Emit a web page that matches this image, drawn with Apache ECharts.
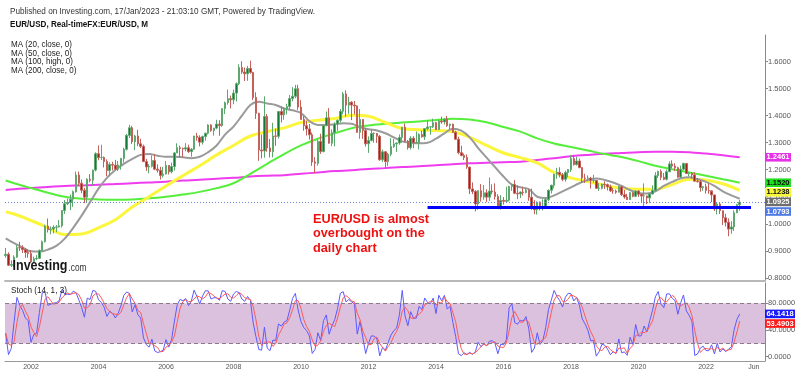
<!DOCTYPE html>
<html>
<head>
<meta charset="utf-8">
<script src="https://cdn.jsdelivr.net/npm/echarts@6/dist/echarts.min.js"></script>
<style>
  html, body { margin: 0; padding: 0; background: #fff; }
  #chart { width: 800px; height: 376px; }
</style>
</head>
<body>
<div id="chart"></div>
<script>
// EUR/USD monthly candles, Apr 2001 .. Jan 2023 (open = previous close)
var firstMonth = '2001-04';
var firstOpen = 0.8821;
var closes = [
  0.8870, 0.8464, 0.8491, 0.8764, 0.9115, 0.9109, 0.9042, 0.8935, 0.8895,
  0.8590, 0.8701, 0.8720, 0.9012, 0.9336, 0.9911, 0.9780, 0.9805, 0.9872, 0.9884, 0.9928, 1.0492,
  1.0738, 1.0784, 1.0912, 1.1184, 1.1806, 1.1500, 1.1240, 1.0985, 1.1650, 1.1609, 1.1988, 1.2595,
  1.2452, 1.2456, 1.2305, 1.1968, 1.2197, 1.2170, 1.2022, 1.2174, 1.2421, 1.2756, 1.3272, 1.3556,
  1.3040, 1.3249, 1.2961, 1.2867, 1.2301, 1.2104, 1.2127, 1.2340, 1.2023, 1.1982, 1.1790, 1.1840,
  1.2157, 1.1924, 1.2118, 1.2622, 1.2816, 1.2790, 1.2765, 1.2813, 1.2670, 1.2760, 1.3250, 1.3199,
  1.3020, 1.3229, 1.3355, 1.3659, 1.3453, 1.3542, 1.3690, 1.3636, 1.4263, 1.4485, 1.4631, 1.4590,
  1.4838, 1.5185, 1.5786, 1.5616, 1.5553, 1.5750, 1.5605, 1.4673, 1.4088, 1.2732, 1.2696, 1.3970,
  1.2808, 1.2669, 1.3251, 1.3236, 1.4155, 1.4031, 1.4257, 1.4339, 1.4635, 1.4719, 1.4999, 1.4321,
  1.3864, 1.3631, 1.3511, 1.3294, 1.2290, 1.2238, 1.3049, 1.2675, 1.3636, 1.3924, 1.2983, 1.3381,
  1.3694, 1.3831, 1.4165, 1.4807, 1.4393, 1.4502, 1.4394, 1.4365, 1.3386, 1.3862, 1.3449, 1.2960,
  1.3085, 1.3346, 1.3342, 1.3238, 1.2368, 1.2665, 1.2302, 1.2577, 1.2858, 1.2958, 1.2989, 1.3193,
  1.3577, 1.3059, 1.2818, 1.3169, 1.3003, 1.3009, 1.3303, 1.3219, 1.3522, 1.3584, 1.3591, 1.3743,
  1.3488, 1.3802, 1.3770, 1.3869, 1.3637, 1.3692, 1.3390, 1.3131, 1.2632, 1.2525, 1.2453, 1.2098,
  1.1291, 1.1196, 1.0731, 1.1224, 1.0989, 1.1146, 1.0985, 1.1210, 1.1176, 1.1006, 1.0566, 1.0862,
  1.0831, 1.0872, 1.1379, 1.1453, 1.1130, 1.1105, 1.1175, 1.1157, 1.1240, 1.0981, 1.0589, 1.0517,
  1.0798, 1.0575, 1.0652, 1.0894, 1.1242, 1.1426, 1.1838, 1.1906, 1.1812, 1.1644, 1.1902, 1.2005,
  1.2413, 1.2190, 1.2324, 1.2080, 1.1693, 1.1684, 1.1690, 1.1604, 1.1604, 1.1312, 1.1316, 1.1466,
  1.1448, 1.1370, 1.1218, 1.1213, 1.1169, 1.1371, 1.1077, 1.0990, 1.0899, 1.1152, 1.1018, 1.1213,
  1.1093, 1.1027, 1.1031, 1.0955, 1.1101, 1.1234, 1.1778, 1.1936, 1.1720, 1.1646, 1.1928, 1.2215,
  1.2136, 1.2074, 1.1726, 1.2020, 1.2228, 1.1857, 1.1870, 1.1809, 1.1578, 1.1558, 1.1337, 1.1370,
  1.1234, 1.1218, 1.1067, 1.0545, 1.0734, 1.0484, 1.0221, 1.0054, 0.9802, 0.9883, 1.0406, 1.0703,
  1.0793
];
var highs = [
  0.9104, 0.8944, 0.8645, 0.8834, 0.9206, 0.9329, 0.9204, 0.9098, 0.9047,
  0.9026, 0.8785, 0.8837, 0.9047, 0.9378, 0.9960, 1.0194, 0.9903, 0.9941, 0.9953, 1.0140, 1.0495,
  1.0880, 1.0937, 1.1082, 1.1233, 1.1933, 1.1933, 1.1640, 1.1330, 1.1682, 1.1837, 1.2004, 1.2649,
  1.2898, 1.2927, 1.2493, 1.2385, 1.2276, 1.2296, 1.2367, 1.2323, 1.2437, 1.2818, 1.3329, 1.3667,
  1.3624, 1.3288, 1.3480, 1.3148, 1.2933, 1.2396, 1.2208, 1.2531, 1.2588, 1.2200, 1.2109, 1.2108,
  1.2323, 1.2148, 1.2266, 1.2653, 1.2980, 1.2892, 1.2820, 1.2986, 1.2928, 1.2800, 1.3253, 1.3367,
  1.3275, 1.3266, 1.3372, 1.3682, 1.3684, 1.3549, 1.3852, 1.3835, 1.4280, 1.4528, 1.4967, 1.4748,
  1.4966, 1.5237, 1.5905, 1.6019, 1.5785, 1.5844, 1.6038, 1.5627, 1.4867, 1.4112, 1.3297, 1.4720,
  1.4063, 1.3137, 1.3739, 1.3524, 1.4163, 1.4338, 1.4303, 1.4446, 1.4770, 1.5062, 1.5144, 1.5144,
  1.4579, 1.3991, 1.3815, 1.3694, 1.3380, 1.2469, 1.3108, 1.3333, 1.3652, 1.4157, 1.4282, 1.3500,
  1.3758, 1.3861, 1.4248, 1.4882, 1.4940, 1.4700, 1.4539, 1.4549, 1.4385, 1.4247, 1.3874, 1.3549,
  1.3236, 1.3486, 1.3385, 1.3283, 1.3283, 1.2747, 1.2692, 1.2624, 1.3172, 1.3140, 1.3013, 1.3308,
  1.3586, 1.3711, 1.3101, 1.3243, 1.3243, 1.3417, 1.3350, 1.3452, 1.3546, 1.3832, 1.3618, 1.3893,
  1.3774, 1.3825, 1.3967, 1.3906, 1.3993, 1.3700, 1.3700, 1.3444, 1.3222, 1.2886, 1.2601, 1.2570,
  1.2108, 1.1534, 1.1244, 1.1228, 1.1467, 1.1436, 1.1278, 1.1714, 1.1460, 1.1495, 1.1095, 1.1059,
  1.0985, 1.1376, 1.1409, 1.1464, 1.1616, 1.1428, 1.1187, 1.1366, 1.1327, 1.1278, 1.1300, 1.0874,
  1.0829, 1.0829, 1.0906, 1.0951, 1.1268, 1.1446, 1.1846, 1.2070, 1.2092, 1.1880, 1.1962, 1.2023,
  1.2537, 1.2555, 1.2476, 1.2414, 1.2097, 1.1852, 1.1791, 1.1734, 1.1815, 1.1625, 1.1500, 1.1486,
  1.1570, 1.1489, 1.1448, 1.1324, 1.1265, 1.1412, 1.1412, 1.1250, 1.1110, 1.1179, 1.1175, 1.1240,
  1.1239, 1.1095, 1.1495, 1.1039, 1.1147, 1.1422, 1.1908, 1.1966, 1.2011, 1.1881, 1.2004, 1.2310,
  1.2349, 1.2243, 1.2113, 1.2150, 1.2266, 1.2254, 1.1909, 1.1909, 1.1909, 1.1692, 1.1616, 1.1386,
  1.1483, 1.1495, 1.1185, 1.1076, 1.0787, 1.0773, 1.0486, 1.0369, 1.0198, 1.0094, 1.0497, 1.0736,
  1.0874
];
var lows = [
  0.8743, 0.8443, 0.8403, 0.8386, 0.8741, 0.8993, 0.8917, 0.8738, 0.8740,
  0.8565, 0.8561, 0.8651, 0.8700, 0.9003, 0.9304, 0.9676, 0.9611, 0.9643, 0.9685, 0.9863, 0.9859,
  1.0364, 1.0693, 1.0505, 1.0622, 1.1150, 1.1413, 1.1136, 1.0766, 1.0796, 1.1533, 1.1429, 1.1940,
  1.2354, 1.2356, 1.2086, 1.1760, 1.1760, 1.1976, 1.1991, 1.1952, 1.2001, 1.2264, 1.2712, 1.3176,
  1.2954, 1.2727, 1.2875, 1.2802, 1.2290, 1.1952, 1.1867, 1.2083, 1.1985, 1.1898, 1.1638, 1.1710,
  1.1827, 1.1827, 1.1866, 1.1968, 1.2619, 1.2456, 1.2455, 1.2682, 1.2623, 1.2484, 1.2733, 1.3076,
  1.2865, 1.2933, 1.3075, 1.3304, 1.3406, 1.3265, 1.3500, 1.3260, 1.3588, 1.4060, 1.4409, 1.4269,
  1.4424, 1.4527, 1.5134, 1.5552, 1.5285, 1.5292, 1.5559, 1.4577, 1.3881, 1.2330, 1.2423, 1.2443,
  1.2665, 1.2456, 1.2457, 1.2886, 1.3156, 1.3748, 1.3853, 1.4048, 1.4208, 1.4533, 1.4650, 1.4218,
  1.3858, 1.3444, 1.3268, 1.3114, 1.2143, 1.1876, 1.2152, 1.2588, 1.2644, 1.3605, 1.2968, 1.2873,
  1.2861, 1.3428, 1.3748, 1.4055, 1.3967, 1.4070, 1.3838, 1.4051, 1.3361, 1.3145, 1.3146, 1.2860,
  1.2624, 1.3052, 1.3003, 1.2995, 1.2333, 1.2288, 1.2042, 1.2132, 1.2500, 1.2804, 1.2661, 1.2925,
  1.2997, 1.3020, 1.2744, 1.2746, 1.2796, 1.2997, 1.2755, 1.3188, 1.3104, 1.3458, 1.3296, 1.3545,
  1.3477, 1.3477, 1.3704, 1.3673, 1.3588, 1.3503, 1.3366, 1.3115, 1.2571, 1.2500, 1.2358, 1.2035,
  1.1098, 1.1098, 1.0457, 1.0520, 1.0819, 1.0888, 1.0808, 1.0847, 1.1087, 1.0896, 1.0556, 1.0524,
  1.0710, 1.0810, 1.0822, 1.1218, 1.1097, 1.0912, 1.0952, 1.1045, 1.1122, 1.0851, 1.0518, 1.0352,
  1.0340, 1.0494, 1.0495, 1.0570, 1.0840, 1.1119, 1.1313, 1.1662, 1.1717, 1.1574, 1.1554, 1.1718,
  1.1915, 1.2153, 1.2154, 1.2055, 1.1510, 1.1509, 1.1574, 1.1301, 1.1526, 1.1302, 1.1216, 1.1269,
  1.1289, 1.1234, 1.1176, 1.1111, 1.1107, 1.1160, 1.1027, 1.0926, 1.0879, 1.0879, 1.0981, 1.0981,
  1.0992, 1.0778, 1.0636, 1.0727, 1.0767, 1.1094, 1.1185, 1.1696, 1.1612, 1.1612, 1.1603, 1.1923,
  1.2054, 1.1952, 1.1704, 1.1704, 1.1986, 1.1847, 1.1752, 1.1664, 1.1563, 1.1524, 1.1186, 1.1222,
  1.1121, 1.1106, 1.0806, 1.0471, 1.0349, 1.0359, 0.9952, 0.9901, 0.9536, 0.9632, 0.9730, 1.0393,
  1.0483
];

// moving averages
var halfYears = ['2001-04', '2001-07',
  '2002-01', '2002-07', '2003-01', '2003-07', '2004-01', '2004-07', '2005-01', '2005-07',
  '2006-01', '2006-07', '2007-01', '2007-07', '2008-01', '2008-07', '2009-01', '2009-07',
  '2010-01', '2010-07', '2011-01', '2011-07', '2012-01', '2012-07', '2013-01', '2013-07',
  '2014-01', '2014-07', '2015-01', '2015-07', '2016-01', '2016-07', '2017-01', '2017-07',
  '2018-01', '2018-07', '2019-01', '2019-07', '2020-01', '2020-07', '2021-01', '2021-07',
  '2022-01', '2022-07', '2023-01'];
var ma50 = [1.044, 1.036,
  1.012, 0.986, 0.960, 0.962, 0.985, 1.015, 1.062, 1.100,
  1.140, 1.178, 1.215, 1.255, 1.290, 1.325, 1.341, 1.355,
  1.375, 1.383, 1.390, 1.402, 1.398, 1.375, 1.353, 1.348,
  1.345, 1.341, 1.320, 1.290, 1.262, 1.245, 1.225, 1.190,
  1.170, 1.156, 1.142, 1.131, 1.128, 1.128, 1.145, 1.165,
  1.162, 1.148, 1.1238];
var ma100 = [1.160, 1.150,
  1.132, 1.115, 1.100, 1.093, 1.090, 1.089, 1.090, 1.094,
  1.100, 1.108, 1.118, 1.132, 1.150, 1.185, 1.222, 1.258,
  1.290, 1.315, 1.335, 1.354, 1.364, 1.370, 1.375, 1.379,
  1.384, 1.389, 1.386, 1.376, 1.358, 1.341, 1.316, 1.297,
  1.284, 1.271, 1.258, 1.247, 1.232, 1.215, 1.202, 1.190,
  1.178, 1.165, 1.1520];
var ma200 = [1.125, 1.128,
  1.132, 1.136, 1.140, 1.142, 1.144, 1.147, 1.150, 1.153,
  1.156, 1.160, 1.163, 1.167, 1.170, 1.175, 1.178, 1.180,
  1.185, 1.190, 1.195, 1.198, 1.203, 1.206, 1.210, 1.213,
  1.217, 1.220, 1.224, 1.226, 1.228, 1.230, 1.236, 1.243,
  1.250, 1.255, 1.259, 1.262, 1.265, 1.267, 1.267, 1.265,
  1.260, 1.254, 1.2461];
// MA 20, one reading per quarter from Apr 2001
var ma20Start = '2001-04';
var ma20 = [0.946, 0.928, 0.912,
  0.898, 0.897, 0.904, 0.918,
  0.945, 0.985, 1.030, 1.080,
  1.130, 1.170, 1.199, 1.222,
  1.240, 1.255, 1.258, 1.252,
  1.248, 1.248, 1.246, 1.243,
  1.248, 1.265, 1.290, 1.330,
  1.360, 1.400, 1.440, 1.452,
  1.445, 1.440, 1.427, 1.420,
  1.410, 1.380, 1.366, 1.366,
  1.368, 1.372, 1.370, 1.358,
  1.350, 1.345, 1.335, 1.320,
  1.305, 1.300, 1.298, 1.300,
  1.315, 1.335, 1.352, 1.345,
  1.320, 1.280, 1.245, 1.210,
  1.175, 1.145, 1.135, 1.128,
  1.100, 1.095, 1.105, 1.120,
  1.135, 1.150, 1.162, 1.168,
  1.162, 1.153, 1.140, 1.125,
  1.114, 1.112, 1.120, 1.140,
  1.155, 1.168, 1.172, 1.165,
  1.155, 1.140, 1.120, 1.105,
  1.0925];

// drawn support line
var supportFrom = '2013-10', supportTo = '2023-05', supportLevel = 1.06;

// axis ticks
var tickMonths = ['2002-01', '2004-01', '2006-01', '2008-01', '2010-01', '2012-01',
  '2014-01', '2016-01', '2018-01', '2020-01', '2022-01', '2023-06'];
var tickNames = ['2002', '2004', '2006', '2008', '2010', '2012',
  '2014', '2016', '2018', '2020', '2022', 'Jun'];
var priceTicks = [0.8, 0.9, 1.0, 1.1, 1.2, 1.3, 1.4, 1.5, 1.6];
var stochTicks = [0, 40, 80];

var FONT = 'Arial, "Liberation Sans", sans-serif';

function toIdx(s) {
  var p = s.split('-');
  return (+p[0] - 2001) * 12 + (+p[1]) - 4;
}

var base = toIdx(firstMonth);
var candleData = closes.map(function (c, i) {
  var o = i === 0 ? firstOpen : closes[i - 1];
  return [base + i, o, c, lows[i], highs[i]];
});

function pairs(months, vals) {
  return vals.map(function (v, i) { return [toIdx(months[i]), v]; });
}
var ma20Data = ma20.map(function (v, i) { return [toIdx(ma20Start) + i * 3, v]; });

// Stoch (14, 1, 3) from the candles
var kData = [], dData = [], kVals = [];
for (var i = 0; i < closes.length; i++) {
  var lo = Infinity, hi = -Infinity;
  for (var j = Math.max(0, i - 13); j <= i; j++) {
    lo = Math.min(lo, lows[j]);
    hi = Math.max(hi, highs[j]);
  }
  var k = 100 * (closes[i] - lo) / (hi - lo);
  kVals.push(k);
  var n = 0, s = 0;
  for (var m = Math.max(0, i - 2); m <= i; m++) { s += kVals[m]; n++; }
  kData.push([base + i, k]);
  dData.push([base + i, s / n]);
}

var xMin = -0.24, xMax = 269.98;

var option = {
  animation: false,
  backgroundColor: '#fff',
  textStyle: { fontFamily: FONT },
  grid: [
    { left: 5, right: 35, top: 35, height: 246 },
    { left: 5, right: 35, top: 283, height: 78 }
  ],
  xAxis: [
    {
      type: 'value', gridIndex: 0, min: xMin, max: xMax,
      axisLine: { onZero: false, lineStyle: { color: '#b8b8b8', width: 2 } },
      axisTick: { show: false }, axisLabel: { show: false }, splitLine: { show: false }
    },
    {
      type: 'value', gridIndex: 1, min: xMin, max: xMax,
      axisLine: { onZero: false, lineStyle: { color: '#999' } },
      axisTick: { show: false }, splitLine: { show: false },
      axisLabel: {
        customValues: tickMonths.map(toIdx),
        formatter: function (v) {
          var t = tickMonths.map(toIdx).indexOf(v);
          return t >= 0 ? tickNames[t] : '';
        },
        fontSize: 7, color: '#555', margin: 3
      }
    }
  ],
  yAxis: [
    {
      type: 'value', gridIndex: 0, position: 'right', min: 0.788, max: 1.699,
      axisLine: { show: true, onZero: false, lineStyle: { color: '#888' } },
      axisTick: { show: true, length: 3, customValues: priceTicks, lineStyle: { color: '#888' } },
      axisLabel: {
        customValues: priceTicks, fontSize: 7.5, color: '#555', margin: 3,
        formatter: function (v) { return v.toFixed(4); }
      },
      splitLine: { show: false }
    },
    {
      type: 'value', gridIndex: 1, position: 'right', min: -6.4, max: 110.5,
      axisLine: { show: true, onZero: false, lineStyle: { color: '#888' } },
      axisTick: { show: true, length: 3, customValues: stochTicks, lineStyle: { color: '#888' } },
      axisLabel: {
        customValues: stochTicks, fontSize: 7.5, color: '#555', margin: 3,
        formatter: function (v) { return v.toFixed(4); }
      },
      splitLine: { show: false }
    }
  ],
  series: [
    {
      name: 'MA 200', type: 'line', xAxisIndex: 0, yAxisIndex: 0, z: 2,
      data: pairs(halfYears, ma200), showSymbol: false, smooth: 0.4,
      lineStyle: { color: '#ee3cee', width: 2 }
    },
    {
      name: 'MA 100', type: 'line', xAxisIndex: 0, yAxisIndex: 0, z: 2,
      data: pairs(halfYears, ma100), showSymbol: false, smooth: 0.4,
      lineStyle: { color: '#55ee3a', width: 2 }
    },
    {
      name: 'MA 50', type: 'line', xAxisIndex: 0, yAxisIndex: 0, z: 2,
      data: pairs(halfYears, ma50), showSymbol: false, smooth: 0.4,
      lineStyle: { color: '#fbf53c', width: 3 }
    },
    {
      name: 'MA 20', type: 'line', xAxisIndex: 0, yAxisIndex: 0, z: 2,
      data: ma20Data, showSymbol: false, smooth: 0.4,
      lineStyle: { color: '#9a9a9a', width: 2 }
    },
    {
      name: 'EUR/USD', type: 'candlestick', xAxisIndex: 0, yAxisIndex: 0, z: 3,
      data: candleData, barWidth: 2,
      itemStyle: {
        color: '#137a35', color0: '#a01f18',
        borderColor: '#5ea870', borderColor0: '#c2625b', borderWidth: 1
      }
    },
    {
      name: 'lines', type: 'line', xAxisIndex: 0, yAxisIndex: 0, z: 4, data: [],
      markLine: {
        silent: true, symbol: 'none', label: { show: false },
        data: [
          { yAxis: closes[closes.length - 1], lineStyle: { type: [1, 2], color: '#6a86d8', width: 1 } },
          [
            { coord: [toIdx(supportFrom), supportLevel] },
            { coord: [toIdx(supportTo), supportLevel] }
          ]
        ],
        lineStyle: { color: '#0000ff', width: 3, type: 'solid' }
      }
    },
    {
      name: '%K', type: 'line', xAxisIndex: 1, yAxisIndex: 1, z: 3,
      data: kData, showSymbol: false,
      lineStyle: { color: '#5a5aff', width: 1 },
      markArea: {
        silent: true, itemStyle: { color: '#dcc1df' },
        data: [[{ yAxis: 20 }, { yAxis: 80 }]]
      },
      markLine: {
        silent: true, symbol: 'none', label: { show: false },
        lineStyle: { color: '#8a7a8a', type: [4, 3], width: 1 },
        data: [{ yAxis: 20 }, { yAxis: 80 }]
      }
    },
    {
      name: '%D', type: 'line', xAxisIndex: 1, yAxisIndex: 1, z: 3,
      data: dData, showSymbol: false,
      lineStyle: { color: '#ff5a5a', width: 1 }
    }
  ]
};

var chart = echarts.init(document.getElementById('chart'));
chart.setOption(option);

// texts squeezed like the reference screenshot
var mctx = document.createElement('canvas').getContext('2d');
function fitScale(text, font, width) {
  mctx.font = font;
  return width / mctx.measureText(text).width;
}
function txt(text, x, y, font, fill, sx) {
  return {
    type: 'text', x: x, y: y, scaleX: sx, silent: true, z: 20,
    style: { text: text, font: font, fill: fill, textVerticalAlign: 'middle' }
  };
}

var g = [];
var f1 = '9.5px ' + FONT, f2 = 'bold 9.5px ' + FONT, f3 = '9px ' + FONT;
var head1 = 'Published on Investing.com, 17/Jan/2023 - 21:03:10 GMT, Powered by TradingView.';
var head2 = 'EUR/USD, Real-timeFX:EUR/USD, M';
g.push(txt(head1, 10, 11.5, f1, '#333', fitScale(head1, f1, 305)));
g.push(txt(head2, 10, 24.5, f2, '#111', fitScale(head2, f2, 138)));
var maNames = ['MA (20, close, 0)', 'MA (50, close, 0)', 'MA (100, high, 0)', 'MA (200, close, 0)'];
var maScale = fitScale(maNames[0], f3, 61);
maNames.forEach(function (t, i) { g.push(txt(t, 11, 45 + i * 8.35, f3, '#222', maScale)); });
g.push(txt('Stoch (14, 1, 3)', 11, 290.5, f3, '#222', fitScale('Stoch (14, 1, 3)', f3, 56)));

var note = ['EUR/USD is almost', 'overbought on the', 'daily chart'];
var fn = 'bold 13.5px ' + FONT;
var noteScale = fitScale(note[0], fn, 116);
note.forEach(function (t, i) { g.push(txt(t, 313, 219 + i * 14.6, fn, '#ee1111', noteScale)); });

var fl = 'bold 14px ' + FONT, fc = '10px ' + FONT;
g.push(txt('Investing', 12.5, 266.5, fl, '#161616', fitScale('Investing', fl, 55)));
g.push(txt('.com', 68.5, 268, fc, '#333', fitScale('.com', fc, 18)));

// value tags on the right axis
var tags = [
  { v: ma200[ma200.length - 1], t: ma200[ma200.length - 1].toFixed(4), bg: '#e632e6', fg: '#fff', a: 0 },
  { v: ma100[ma100.length - 1], t: ma100[ma100.length - 1].toFixed(4), bg: '#22dd22', fg: '#111', a: 0 },
  { v: ma50[ma50.length - 1], t: ma50[ma50.length - 1].toFixed(4), bg: '#f8f83a', fg: '#111', a: 0 },
  { v: ma20[ma20.length - 1], t: ma20[ma20.length - 1].toFixed(4), bg: '#6e6e6e', fg: '#fff', a: 0 },
  { v: closes[closes.length - 1], t: closes[closes.length - 1].toFixed(4), bg: '#4f7ae6', fg: '#fff', a: 0 },
  { v: kVals[kVals.length - 1], t: '64.1418', bg: '#1a1aff', fg: '#fff', a: 1 },
  { v: dData[dData.length - 1][1], t: '53.4903', bg: '#ff1a1a', fg: '#fff', a: 1 }
];
var last = { 0: -99, 1: -99 };
tags.map(function (tg) {
  tg.y = chart.convertToPixel({ yAxisIndex: tg.a }, tg.v);
  return tg;
}).sort(function (a, b) { return a.y - b.y; }).forEach(function (tg) {
  var y = Math.max(tg.y, last[tg.a] + 9.6);
  last[tg.a] = y;
  var w = tg.a === 1 ? 30 : 26;
  g.push({
    type: 'rect', silent: true, z: 20,
    shape: { x: 765, y: y - 4.3, width: w, height: 8.6 },
    style: { fill: tg.bg }
  });
  g.push({
    type: 'text', silent: true, z: 21, x: 765 + w / 2, y: y,
    style: { text: tg.t, font: 'bold 7.5px ' + FONT, fill: tg.fg, textAlign: 'center', textVerticalAlign: 'middle' }
  });
});

chart.setOption({ graphic: g });
</script>
</body>
</html>
